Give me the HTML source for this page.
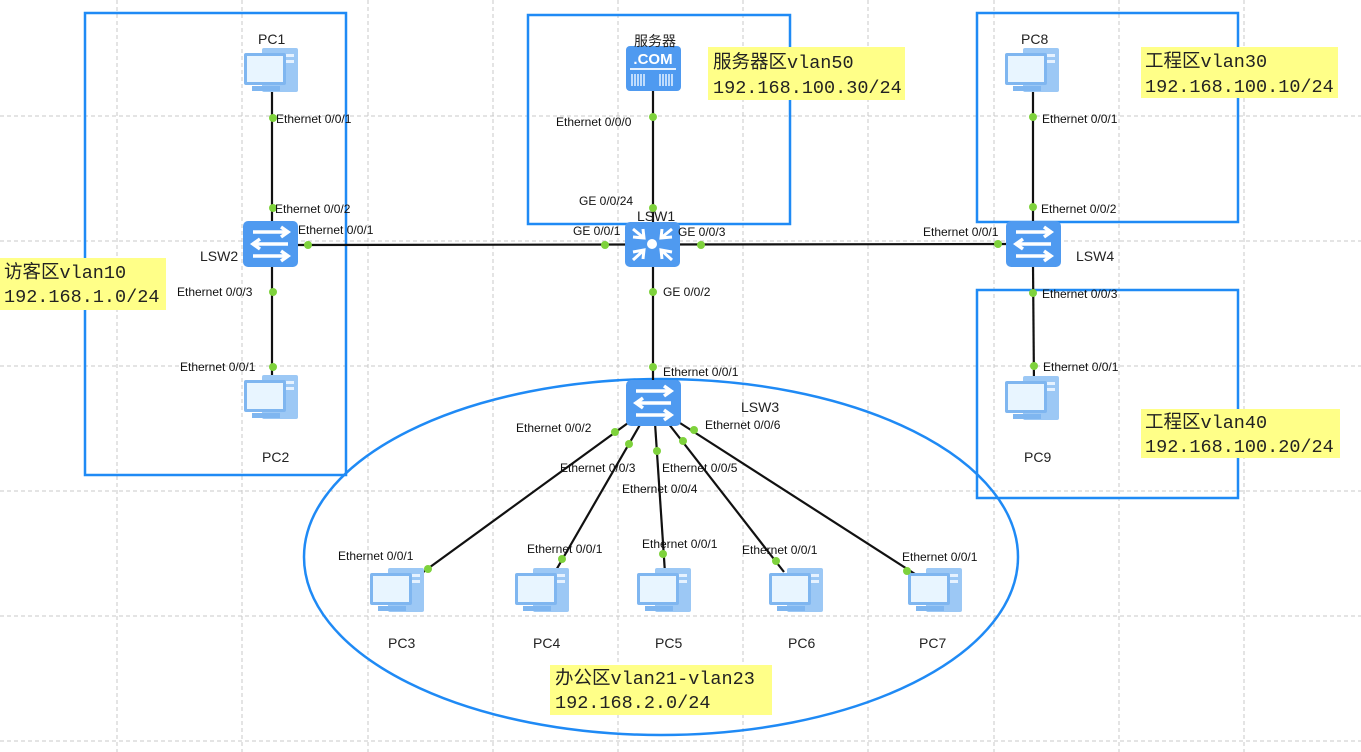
<!DOCTYPE html>
<html><head><meta charset="utf-8"><style>
html,body{margin:0;padding:0;background:#fff;}
svg{display:block;}
.l{font-family:"Liberation Sans",Arial,sans-serif;font-size:12px;fill:#111;}
.n{font-family:"Liberation Sans",Arial,sans-serif;font-size:14px;fill:#222;}
.y{font-family:"Liberation Mono","Noto Sans CJK SC",monospace;font-size:18.5px;fill:#222;}
</style></head><body>
<svg width="1361" height="752" viewBox="0 0 1361 752" xmlns="http://www.w3.org/2000/svg">
<defs>
<g id="pc">
 <rect x="18" y="0" width="36" height="44" rx="2" fill="#9cc8f5"/>
 <rect x="36" y="6" width="14" height="3" fill="#e6f2ff"/>
 <rect x="36" y="12" width="14" height="3" fill="#e6f2ff"/>
 <rect x="0" y="5" width="42" height="32" rx="2" fill="#7fb6f0"/>
 <rect x="3" y="8" width="36" height="26" fill="#e8f5ff"/>
 <rect x="8" y="38" width="28" height="5" fill="#7fb6f0"/>
</g>
<g id="sw">
 <rect x="0" y="0" width="55" height="46" rx="5" fill="#4f9af0"/>
 <path d="M10 11 H44 M38 6 L45 11 L38 16 M45 23 H11 M17 18 L10 23 L17 28 M10 35 H44 M38 30 L45 35 L38 40" stroke="#fff" stroke-width="3.5" fill="none"/>
</g>
</defs>
<!-- grid -->
<g stroke="#c8c8c8" stroke-width="1" stroke-dasharray="4,3">
 <line x1="117" y1="0" x2="117" y2="752"/><line x1="242" y1="0" x2="242" y2="752"/><line x1="368" y1="0" x2="368" y2="752"/><line x1="493" y1="0" x2="493" y2="752"/><line x1="618" y1="0" x2="618" y2="752"/><line x1="743" y1="0" x2="743" y2="752"/><line x1="868" y1="0" x2="868" y2="752"/><line x1="994" y1="0" x2="994" y2="752"/><line x1="1119" y1="0" x2="1119" y2="752"/><line x1="1244" y1="0" x2="1244" y2="752"/>
 <line x1="0" y1="116" x2="1361" y2="116"/><line x1="0" y1="241" x2="1361" y2="241"/><line x1="0" y1="366" x2="1361" y2="366"/><line x1="0" y1="491" x2="1361" y2="491"/><line x1="0" y1="616" x2="1361" y2="616"/><line x1="0" y1="741" x2="1361" y2="741"/>
</g>
<!-- zones -->
<g fill="none" stroke="#1f8af5" stroke-width="2.5">
 <rect x="85" y="13" width="261" height="462"/>
 <rect x="528" y="15" width="262" height="209"/>
 <rect x="977" y="13" width="261" height="209"/>
 <rect x="977" y="290" width="261" height="208"/>
 <ellipse cx="661" cy="557" rx="357" ry="178"/>
</g>
<!-- links -->
<g stroke="#111" stroke-width="2.2" fill="none">
 <line x1="272" y1="85" x2="272" y2="225"/>
 <line x1="272" y1="265" x2="272" y2="385"/>
 <line x1="295" y1="245" x2="1010" y2="244"/>
 <line x1="653" y1="88" x2="653" y2="225"/>
 <line x1="653" y1="265" x2="653" y2="385"/>
 <line x1="1033" y1="85" x2="1033" y2="225"/>
 <line x1="1033" y1="265" x2="1034" y2="385"/>
 <line x1="628" y1="423" x2="415" y2="578"/>
 <line x1="641" y1="423" x2="555" y2="572"/>
 <line x1="655" y1="423" x2="665" y2="573"/>
 <line x1="668" y1="423" x2="784" y2="572"/>
 <line x1="680" y1="423" x2="915" y2="574"/>
</g>
<!-- devices -->
<use href="#pc" x="244" y="48"/>
<use href="#pc" x="244" y="375"/>
<use href="#pc" x="1005" y="48"/>
<use href="#pc" x="1005" y="376"/>
<use href="#pc" x="370" y="568"/>
<use href="#pc" x="515" y="568"/>
<use href="#pc" x="637" y="568"/>
<use href="#pc" x="769" y="568"/>
<use href="#pc" x="908" y="568"/>
<use href="#sw" x="243" y="221"/>
<use href="#sw" x="1006" y="221"/>
<use href="#sw" x="626" y="380"/>
<g>
 <rect x="625" y="222" width="55" height="45" rx="5" fill="#4f9af0"/>
 <circle cx="652" cy="244" r="5" fill="#fff"/>
 <path d="M633 229 L644 238 M633 237 L644 238 L643 229 M672 229 L661 238 M672 237 L661 238 L662 229 M633 260 L644 250 M633 252 L644 250 L643 259 M672 260 L661 250 M672 252 L661 250 L662 259" stroke="#fff" stroke-width="3" fill="none"/>
</g>
<g>
 <rect x="626" y="46" width="55" height="45" rx="4" fill="#4f9af0"/>
 <text x="653" y="64" font-family="Liberation Sans,sans-serif" font-size="15" font-weight="bold" fill="#fff" text-anchor="middle">.COM</text>
 <rect x="630" y="68" width="46" height="2" fill="#e6f2ff"/>
 <path d="M632 74 V86 M635 74 V86 M638 74 V86 M641 74 V86 M644 74 V86 M660 74 V86 M663 74 V86 M666 74 V86 M669 74 V86 M672 74 V86" stroke="#e6f2ff" stroke-width="1.5"/>
</g>
<!-- port dots -->
<g fill="#7ed23c">
 <circle cx="273" cy="118" r="4"/><circle cx="273" cy="208" r="4"/><circle cx="308" cy="245" r="4"/><circle cx="273" cy="292" r="4"/><circle cx="273" cy="367" r="4"/>
 <circle cx="653" cy="117" r="4"/><circle cx="653" cy="208" r="4"/><circle cx="605" cy="245" r="4"/><circle cx="701" cy="245" r="4"/><circle cx="653" cy="292" r="4"/><circle cx="653" cy="367" r="4"/>
 <circle cx="1033" cy="117" r="4"/><circle cx="1033" cy="207" r="4"/><circle cx="998" cy="244" r="4"/><circle cx="1033" cy="293" r="4"/><circle cx="1034" cy="366" r="4"/>
 <circle cx="615" cy="432" r="4"/><circle cx="629" cy="444" r="4"/><circle cx="657" cy="451" r="4"/><circle cx="683" cy="441" r="4"/><circle cx="694" cy="430" r="4"/>
 <circle cx="428" cy="569" r="4"/><circle cx="562" cy="559" r="4"/><circle cx="663" cy="554" r="4"/><circle cx="776" cy="561" r="4"/><circle cx="907" cy="571" r="4"/>
</g>
<!-- port labels -->
<g class="l">
 <text x="276" y="123">Ethernet 0/0/1</text>
 <text x="275" y="213">Ethernet 0/0/2</text>
 <text x="298" y="234">Ethernet 0/0/1</text>
 <text x="177" y="296">Ethernet 0/0/3</text>
 <text x="180" y="371">Ethernet 0/0/1</text>
 <text x="556" y="126">Ethernet 0/0/0</text>
 <text x="579" y="205">GE 0/0/24</text>
 <text x="573" y="235">GE 0/0/1</text>
 <text x="678" y="236">GE 0/0/3</text>
 <text x="663" y="296">GE 0/0/2</text>
 <text x="663" y="376">Ethernet 0/0/1</text>
 <text x="1042" y="123">Ethernet 0/0/1</text>
 <text x="1041" y="213">Ethernet 0/0/2</text>
 <text x="923" y="236">Ethernet 0/0/1</text>
 <text x="1042" y="298">Ethernet 0/0/3</text>
 <text x="1043" y="371">Ethernet 0/0/1</text>
 <text x="516" y="432">Ethernet 0/0/2</text>
 <text x="705" y="429">Ethernet 0/0/6</text>
 <text x="560" y="472">Ethernet 0/0/3</text>
 <text x="662" y="472">Ethernet 0/0/5</text>
 <text x="622" y="493">Ethernet 0/0/4</text>
 <text x="338" y="560">Ethernet 0/0/1</text>
 <text x="527" y="553">Ethernet 0/0/1</text>
 <text x="642" y="548">Ethernet 0/0/1</text>
 <text x="742" y="554">Ethernet 0/0/1</text>
 <text x="902" y="561">Ethernet 0/0/1</text>
</g>
<!-- device names -->
<g class="n">
 <text x="258" y="44">PC1</text>
 <text x="262" y="462">PC2</text>
 <text x="1021" y="44">PC8</text>
 <text x="1024" y="462">PC9</text>
 <text x="200" y="261">LSW2</text>
 <text x="1076" y="261">LSW4</text>
 <text x="741" y="412">LSW3</text>
 <text x="637" y="221">LSW1</text>
 <text x="634" y="46" font-family="Liberation Sans,'Noto Sans CJK SC',sans-serif">服务器</text>
 <text x="388" y="648">PC3</text>
 <text x="533" y="648">PC4</text>
 <text x="655" y="648">PC5</text>
 <text x="788" y="648">PC6</text>
 <text x="919" y="648">PC7</text>
</g>
<!-- yellow labels -->
<g fill="#ffff88">
 <rect x="0" y="258" width="166" height="52"/>
 <rect x="708" y="47" width="197" height="53"/>
 <rect x="1141" y="47" width="197" height="51"/>
 <rect x="1141" y="409" width="199" height="49"/>
 <rect x="550" y="665" width="222" height="50"/>
</g>
<g class="y">
 <text x="4" y="278">访客区vlan10</text><text x="4" y="302">192.168.1.0/24</text>
 <text x="713" y="68">服务器区vlan50</text><text x="713" y="93">192.168.100.30/24</text>
 <text x="1145" y="67">工程区vlan30</text><text x="1145" y="92">192.168.100.10/24</text>
 <text x="1145" y="428">工程区vlan40</text><text x="1145" y="452">192.168.100.20/24</text>
 <text x="555" y="684">办公区vlan21-vlan23</text><text x="555" y="708">192.168.2.0/24</text>
</g>
</svg>
</body></html>
